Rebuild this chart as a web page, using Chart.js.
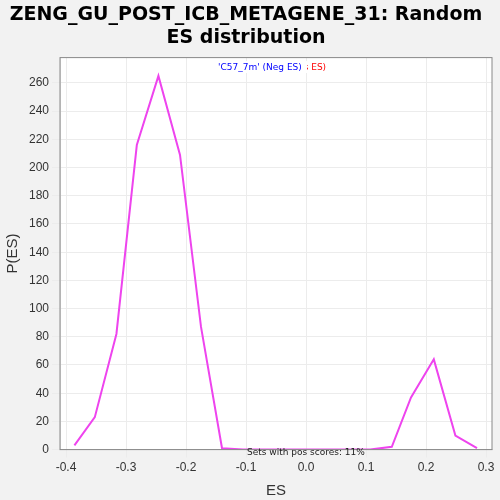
<!DOCTYPE html>
<html><head><script src="https://cdn.jsdelivr.net/npm/chart.js@4"></script>
<style>body{margin:0;background:#f2f2f2}#w{width:500px;height:500px}</style></head>
<body><div id="w"><canvas id="c"></canvas></div>
<script>
const esValues=[-0.386,-0.352,-0.316,-0.282,-0.246,-0.210,-0.175,-0.140,-0.105,-0.069,-0.034,0.001,0.037,0.072,0.107,0.143,0.175,0.213,0.249,0.285];
const density=[3,23,82,216,265,209,87,1,0,0,0,0,0,0,0,2,37,64,10,1];
const xTicks=[-0.4,-0.3,-0.2,-0.1,0,0.1,0.2,0.3];
const yTicks=[0,20,40,60,80,100,120,140,160,180,200,220,240,260];
const title=["ZENG_GU_POST_ICB_METAGENE_31: Random","ES distribution"];
const plotBg={id:'bg',beforeDraw(c){const a=c.chartArea,x=c.ctx;x.save();x.fillStyle='#fff';x.fillRect(a.left,a.top,a.width,a.height);x.restore();},
afterDraw(c){const a=c.chartArea,x=c.ctx;x.save();x.strokeStyle='#888';x.strokeRect(a.left,a.top,a.width,a.height);
x.font='9px DejaVu Sans';x.textAlign='left';x.fillStyle='red';x.fillText("'C57_7m' (Pos ES)",245,70);x.fillStyle='#fff';x.fillRect(240,61,67,12);
x.fillStyle='blue';x.fillText("'C57_7m' (Neg ES)",218,70);x.fillStyle='#222';x.fillText('Sets with pos scores: 11%',247,455);x.restore();}};
new Chart(document.getElementById('c'),{type:'line',data:{datasets:[{data:esValues.map((v,i)=>({x:v,y:density[i]})),borderColor:'#ee44ee',borderWidth:2,pointRadius:0,tension:0}]},
options:{responsive:true,maintainAspectRatio:false,animation:false,layout:{padding:{right:8,bottom:0}},
plugins:{legend:{display:false},title:{display:true,text:title,font:{family:'DejaVu Sans',size:19,weight:'bold'},color:'#000',padding:{top:4,bottom:8}}},
scales:{x:{type:'linear',min:-0.41,max:0.31,afterBuildTicks(s){s.ticks=xTicks.map(v=>({value:v}));},ticks:{callback:v=>v.toFixed(1),font:{size:12},color:'#333'},grid:{color:'#ececec',borderDash:[3,3]},title:{display:true,text:'ES',font:{size:15},color:'#333',padding:{top:4,bottom:0}}},
y:{min:0,max:278,afterBuildTicks(s){s.ticks=yTicks.map(v=>({value:v}));},ticks:{font:{size:12},color:'#333'},grid:{color:'#ececec'},title:{display:true,text:'P(ES)',font:{size:15},color:'#333'}}}},
plugins:[plotBg]});
</script></body></html>
